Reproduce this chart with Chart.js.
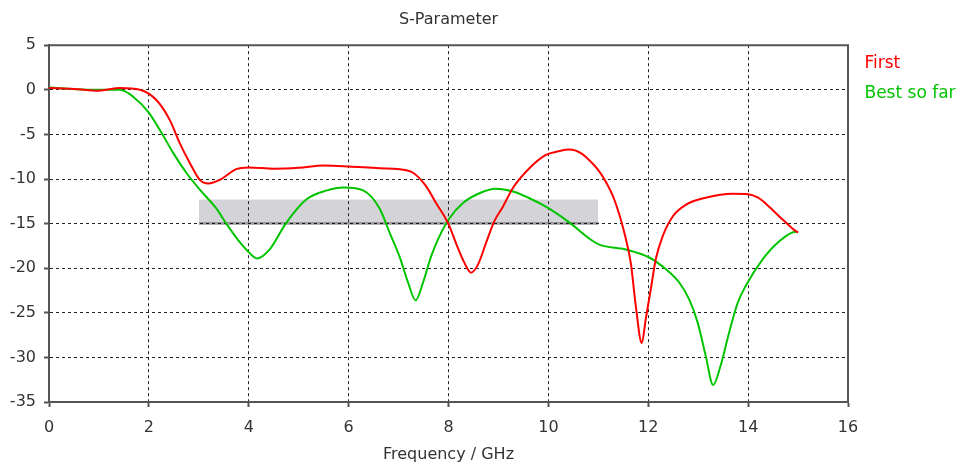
<!DOCTYPE html>
<html lang="en">
<head>
    <meta charset="UTF-8">
    <title>S-Parameter</title>
    <script src="https://cdn.jsdelivr.net/npm/chart.js"></script>
    <style>
        html, body { margin: 0; padding: 0; background: #fff; }
        #wrap { width: 961px; height: 466px; }
    </style>
</head>
<body>
<div id="wrap"><canvas id="sparamChart"></canvas></div>

<script>
    // Frequency / GHz and S-parameter / dB
    const firstFreq = [0, 0.5, 1.0, 1.42, 1.82, 2.15, 2.42, 2.62, 2.82, 3.02, 3.19, 3.42, 3.75, 4.0, 4.5, 5.0, 5.5, 6.0, 6.62, 7.02,
        7.29, 7.55, 7.75, 7.92, 8.02, 8.15, 8.32, 8.45, 8.59, 8.75, 8.92, 9.09, 9.29, 9.6, 9.95, 10.2, 10.42, 10.65, 10.82, 11.0,
        11.15, 11.32, 11.52, 11.65, 11.75, 11.87, 11.95, 12.05, 12.15, 12.29, 12.49, 12.75, 13.15, 13.69, 14.0, 14.2,
        14.42, 14.7, 14.92, 15.0];
    const firstDb = [0.2, 0.1, -0.1, 0.2, 0.0, -1.15, -3.4, -6.0, -8.2, -10.1, -10.5, -10.1, -8.9, -8.7, -8.85, -8.75, -8.5, -8.6, -8.8, -8.9,
        -9.3, -10.8, -12.7, -14.2, -15.3, -17.2, -19.4, -20.5, -19.6, -17.2, -14.7, -13.1, -11.0, -8.9, -7.3, -6.9, -6.7, -7.1, -7.9, -9.0,
        -10.3, -12.3, -16.0, -19.4, -24.2, -28.4, -25.7, -22.4, -19.0, -16.4, -14.2, -12.9, -12.1, -11.65, -11.7, -12.1,
        -13.1, -14.6, -15.7, -16.0];

    const bestFreq = [0, 0.3, 0.82, 1.42, 1.69, 1.99, 2.22, 2.49, 2.75, 3.02, 3.35, 3.55, 3.78, 3.95, 4.17, 4.42, 4.74, 5.15, 5.55, 5.9,
        6.3, 6.62, 6.82, 7.02, 7.19, 7.34, 7.49, 7.65, 7.82, 8.02, 8.29, 8.62, 8.95, 9.29, 9.6, 9.95, 10.2, 10.45, 10.8, 11.02,
        11.55, 12.02, 12.35, 12.62, 12.82, 12.99, 13.15, 13.3, 13.45, 13.62, 13.79, 13.95, 14.29, 14.62, 14.95, 15.0];
    const bestDb = [0.25, 0.15, 0.0, 0.0, -0.8, -2.5, -4.5, -7.1, -9.3, -11.2, -13.3, -15.0, -16.8, -17.9, -18.9, -17.9, -15.0, -12.3, -11.3, -10.95,
        -11.3, -13.3, -16.0, -18.7, -21.6, -23.6, -21.6, -18.7, -16.4, -14.4, -12.7, -11.6, -11.1, -11.4, -12.1, -13.1, -14.0, -15.0, -16.6, -17.35,
        -17.9, -18.8, -20.1, -21.6, -23.5, -26.1, -29.8, -33.1, -30.9, -27.2, -23.9, -22.0, -19.0, -17.0, -15.9, -16.0];

    // goal band (grey box)
    const goalFreq = [3, 11];
    const goalTop = [-12.3, -12.3];
    const goalBottom = [-15, -15];

    const xTicks = [0, 2, 4, 6, 8, 10, 12, 14, 16];
    const yTicks = [5, 0, -5, -10, -15, -20, -25, -30, -35];

    const redColor = '#ff0000';
    const greenColor = '#00c400';
    const fontFamily = '"DejaVu Sans", Verdana, sans-serif';

    function toPoints(xs, ys) {
        return xs.map((x, i) => ({ x: x, y: ys[i] }));
    }

    // Solid frame on the top and right edge of the plot
    const frame = {
        id: 'frame',
        afterDatasetsDraw(chart) {
            const a = chart.chartArea;
            const ctx = chart.ctx;
            ctx.save();
            ctx.strokeStyle = '#555';
            ctx.lineWidth = 2;
            ctx.beginPath();
            ctx.moveTo(a.left, a.top);
            ctx.lineTo(a.right, a.top);
            ctx.lineTo(a.right, a.bottom);
            ctx.stroke();
            ctx.restore();
        }
    };

    const ctx = document.getElementById('sparamChart').getContext('2d');
    new Chart(ctx, {
        type: 'line',
        data: {
            datasets: [{
                label: 'First',
                data: toPoints(firstFreq, firstDb),
                borderColor: redColor,
                borderWidth: 2,
                pointRadius: 0,
                cubicInterpolationMode: 'monotone',
                order: 0
            }, {
                label: 'Best so far',
                data: toPoints(bestFreq, bestDb),
                borderColor: greenColor,
                borderWidth: 2,
                pointRadius: 0,
                cubicInterpolationMode: 'monotone',
                order: 1
            }, {
                label: '',
                data: toPoints(goalFreq, goalTop),
                borderWidth: 0,
                borderColor: 'rgba(0,0,0,0)',
                pointRadius: 0,
                order: 2
            }, {
                label: '',
                data: toPoints(goalFreq, goalBottom),
                borderWidth: 3,
                borderColor: 'rgba(0,0,0,0.3)',
                backgroundColor: 'rgba(40,40,60,0.2)',
                fill: '-1',
                pointRadius: 0,
                order: 3
            }]
        },
        options: {
            responsive: true,
            maintainAspectRatio: false,
            animation: false,
            layout: { padding: { left: 0, right: 0, top: 0, bottom: 0 } },
            scales: {
                x: {
                    type: 'linear',
                    min: 0,
                    max: 16,
                    afterBuildTicks: s => { s.ticks = xTicks.map(v => ({ value: v })); },
                    ticks: { color: '#333', font: { family: fontFamily, size: 16 }, padding: 11, maxRotation: 0 },
                    grid: { color: '#222', tickColor: '#555', tickLength: 5, tickWidth: 2 },
                    border: { color: '#555', width: 2, dash: [3, 3] },
                    title: {
                        display: true,
                        text: 'Frequency / GHz',
                        color: '#333',
                        font: { family: fontFamily, size: 16 },
                        padding: { top: 6, bottom: 2 }
                    },
                    afterFit: s => { s.height = 64; }
                },
                y: {
                    min: -35,
                    max: 5,
                    afterBuildTicks: s => { s.ticks = yTicks.map(v => ({ value: v })); },
                    ticks: { color: '#333', font: { family: fontFamily, size: 16 }, padding: 8 },
                    grid: { color: '#222', tickColor: '#555', tickLength: 5, tickWidth: 2 },
                    border: { color: '#555', width: 2, dash: [3, 3] },
                    afterFit: s => { s.width = 49; }
                }
            },
            plugins: {
                title: {
                    display: true,
                    text: 'S-Parameter',
                    color: '#333',
                    fullSize: false,
                    font: { family: fontFamily, size: 16, weight: 'normal' },
                    padding: { top: 10, bottom: 16 }
                },
                legend: {
                    position: 'right',
                    align: 'start',
                    fullSize: false,
                    maxWidth: 113,
                    // empty title with negative padding lifts the entries a few pixels
                    title: { display: true, text: '', font: { size: 1 }, padding: { top: 0, bottom: -4 } },
                    labels: {
                        boxWidth: -5,
                        boxHeight: 0,
                        padding: 13,
                        font: { family: fontFamily, size: 17 },
                        filter: item => item.text !== '',
                        generateLabels: chart => chart.data.datasets.map((ds, i) => ({
                            text: ds.label,
                            fontColor: ds.borderColor,
                            fillStyle: 'rgba(0,0,0,0)',
                            strokeStyle: 'rgba(0,0,0,0)',
                            lineWidth: 0,
                            hidden: false,
                            datasetIndex: i
                        }))
                    }
                },
                tooltip: { enabled: false }
            }
        },
        plugins: [frame]
    });
</script>
</body>
</html>
